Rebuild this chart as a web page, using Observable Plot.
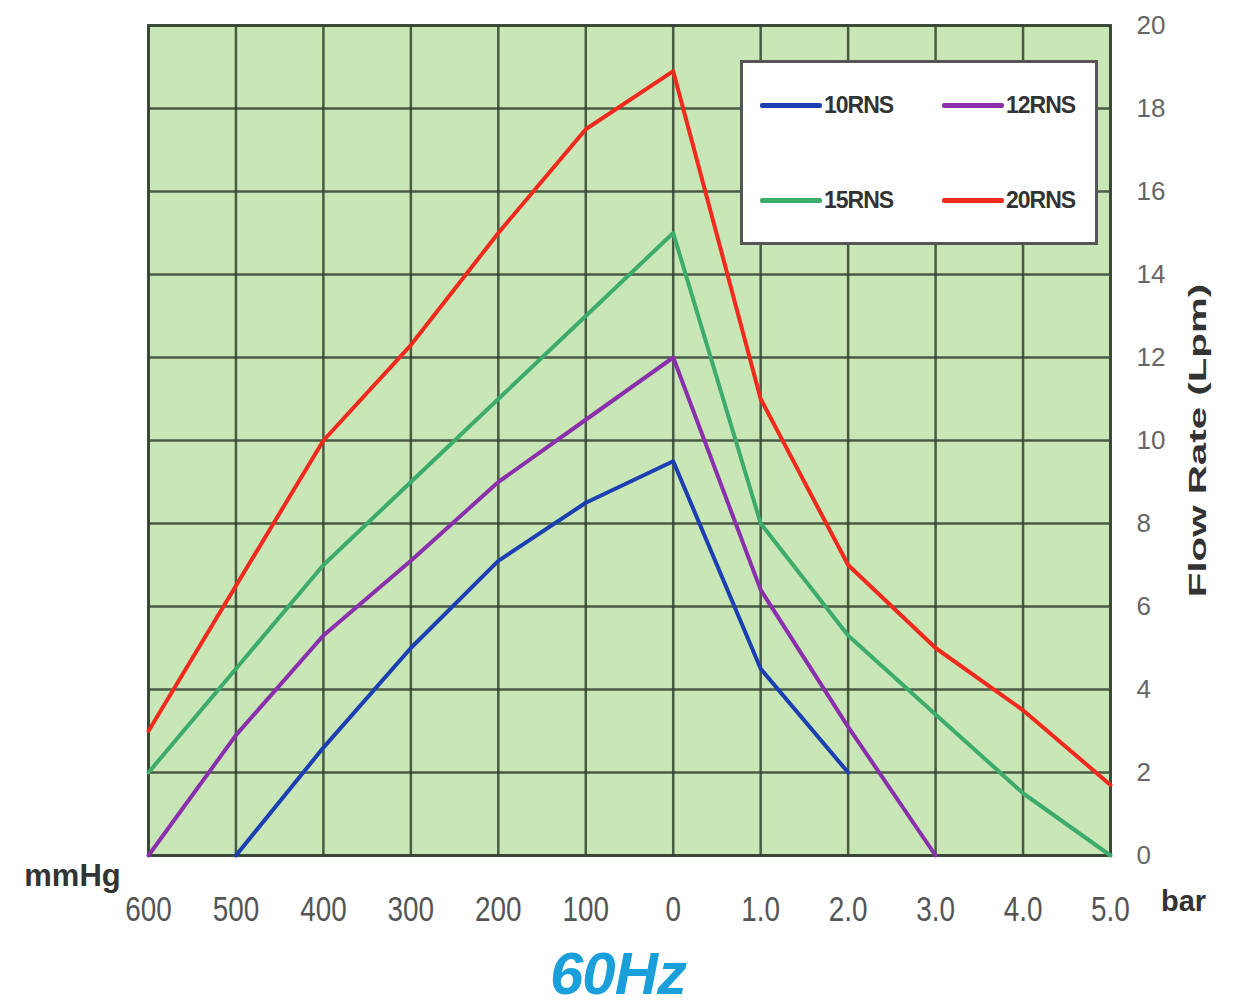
<!DOCTYPE html>
<html><head><meta charset="utf-8">
<script src="https://cdn.jsdelivr.net/npm/d3@7"></script>
<script src="https://cdn.jsdelivr.net/npm/@observablehq/plot@0.6"></script>
<style>
body{margin:0;background:#fff;}
#wrap{position:relative;width:1236px;height:1007px;overflow:hidden;}
#caption{position:absolute;left:0;top:944px;width:1236px;text-align:center;font:italic bold 60px "Liberation Sans",Arial,sans-serif;line-height:60px;color:#1a9fdb;letter-spacing:-1px;}
#legend{position:absolute;left:740px;top:60px;width:352px;height:179px;background:#fff;border:3px solid #555;}
.item{position:absolute;display:flex;align-items:center;}
.sw{width:62px;height:5px;border-radius:2px;}
.lab{font:bold 23px "Liberation Sans Narrow","Liberation Sans",Arial,sans-serif;color:#333;margin-left:2px;letter-spacing:-1px;}
</style></head><body>
<div id="wrap"><div id="chart"></div><div id="caption">60Hz</div><div id="legend"></div></div>
<script>
// x positions are column indices of the combined scale (vacuum mmHg | pressure bar)
const xLabels = ["600","500","400","300","200","100","0","1.0","2.0","3.0","4.0","5.0"];
const yTicks = [0,2,4,6,8,10,12,14,16,18,20];
const series = ["10RNS","12RNS","15RNS","20RNS"];
const colors = ["#1c3fb2","#8b30ad","#3dab6c","#f2291d"];

const pos10 = [1,2,3,4,5,6,7,8];
const flow10 = [0,2.6,5,7.1,8.5,9.5,4.5,2];
const pos12 = [0,1,2,3,4,5,6,7,8,9];
const flow12 = [0,2.9,5.3,7.1,9,10.5,12,6.4,3.1,0];
const pos15 = [0,1,2,3,4,5,6,7,8,9,10,11];
const flow15 = [2,4.5,7,9,11,13,15,8,5.3,3.4,1.5,0];
const pos20 = [0,1,2,3,4,5,6,7,8,9,10,11];
const flow20 = [3,6.5,10,12.3,15,17.5,18.9,11,7,5,3.5,1.7];

const table = [];
[[pos10,flow10],[pos12,flow12],[pos15,flow15],[pos20,flow20]].forEach(([p,f],k)=>{
  p.forEach((x,i)=>table.push({series:series[k], x, y:f[i]}));
});
const xTicks = xLabels.map((_,i)=>i);
const tickFont = '"Liberation Sans Narrow","Liberation Sans",Arial,sans-serif';

const chart = Plot.plot({
  width:1236, height:945,
  marginLeft:148, marginRight:126, marginTop:25, marginBottom:90,
  style:{fontFamily:tickFont, background:"transparent"},
  x:{type:"linear", domain:[0,11], axis:null},
  y:{domain:[0,20], axis:null},
  color:{domain:series, range:colors},
  marks:[
    Plot.frame({fill:"#c9e6b7", stroke:null}),
    Plot.gridX(xTicks, {stroke:"#33432f", strokeOpacity:0.85, strokeWidth:2.5}),
    Plot.gridY(yTicks, {stroke:"#33432f", strokeOpacity:0.85, strokeWidth:2.5}),
    Plot.frame({stroke:"#33432f", strokeOpacity:0.85, strokeWidth:3}),
    Plot.line(table, {x:"x", y:"y", z:"series", stroke:"series", strokeWidth:4, strokeLinejoin:"round"}),
    Plot.axisX(xTicks, {tickFormat:i=>xLabels[i], tickSize:0, tickPadding:41, fontSize:31, fill:"#555", label:null, className:"xt"}),
    Plot.axisY(yTicks, {anchor:"right", tickSize:0, tickPadding:26, fontSize:26, fill:"#666", label:null}),
    Plot.text(["Flow Rate (Lpm)"], {frameAnchor:"right", dx:88, rotate:-90, textAnchor:"middle", lineAnchor:"middle",
      fontSize:24, fontWeight:"bold", fontFamily:'"Liberation Sans",Arial,sans-serif', fill:"#333"}),
    Plot.text(["mmHg"], {frameAnchor:"bottom-left", dx:-76, dy:21, textAnchor:"middle", lineAnchor:"middle",
      fontSize:31, fontWeight:"bold", fill:"#333"}),
    Plot.text(["bar"], {frameAnchor:"bottom-right", dx:73, dy:46, textAnchor:"middle", lineAnchor:"middle",
      fontSize:29, fontWeight:"bold", fill:"#333"})
  ]
});
document.getElementById("chart").appendChild(chart);
// stretch the y label along its length, like the source
d3.select(chart).selectAll("text").filter(function(){return this.textContent==="Flow Rate (Lpm)";})
  .attr("transform", function(){return (this.getAttribute("transform")||"") + " scale(1.68,1)";});
// slightly condensed, taller tick digits on the x axis
d3.select(chart).selectAll(".xt text")
  .attr("transform", function(){return (this.getAttribute("transform")||"") + " scale(0.9,1.12)";});

const leg = document.getElementById("legend");
series.forEach((s,i)=>{
  const col=i%2,row=Math.floor(i/2);
  const d=document.createElement("div");
  d.className="item";
  d.style.left=(17+col*182)+"px";
  d.style.top=(29+row*95)+"px";
  d.innerHTML=`<div class="sw" style="background:${colors[i]}"></div><span class="lab">${s}</span>`;
  leg.appendChild(d);
});
</script>
</body></html>
